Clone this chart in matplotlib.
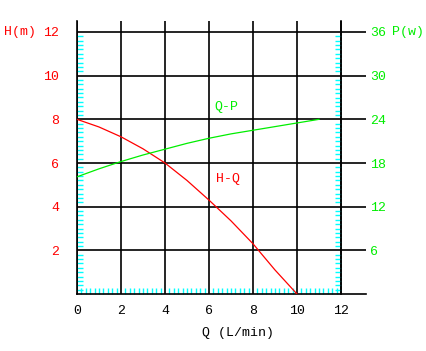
import numpy as np
import matplotlib
matplotlib.use("Agg")
import matplotlib.pyplot as plt

# data
q_h = [0, 1, 2, 3, 4, 5, 6, 7, 8, 9, 10]
head = [8.0, 7.65, 7.2, 6.65, 6.0, 5.2, 4.3, 3.35, 2.3, 1.1, 0.0]
q_p = [0, 1, 2, 3, 4, 5, 6, 7, 8, 9, 10, 11]
power = [16.1, 17.2, 18.2, 19.1, 19.9, 20.7, 21.4, 22.0, 22.5, 23.0, 23.5, 24.0]
x_ticks = [0, 2, 4, 6, 8, 10, 12]
h_ticks = [2, 4, 6, 8, 10, 12]
p_ticks = [6, 12, 18, 24, 30, 36]

plt.rcParams['font.family'] = ['Liberation Mono', 'DejaVu Sans']
fs = 9.5
RED, GREEN, CYAN = '#ff0000', '#00ee00', '#00ffff'

W, H = 427, 351
fig = plt.figure(figsize=(W / 100, H / 100), dpi=100)
x0, x12, xr = 77, 341, 366
y0, y12, yt = 294, 32, 21
ax = fig.add_axes([x0 / W, (H - y0) / H, (xr - x0) / W, (y0 - yt) / H])
xmax = 12 * (xr - x0) / (x12 - x0)
ymax = 12 * (y0 - yt) / (y0 - y12)
ax.set_xlim(0, xmax)
ax.set_ylim(0, ymax)

for s in ['top', 'right']:
    ax.spines[s].set_visible(False)
for s in ['left', 'bottom']:
    ax.spines[s].set_linewidth(1.2)

ax.set_xticks(x_ticks)
ax.set_yticks(h_ticks)
ax.set_yticklabels([str(v) for v in h_ticks], color=RED, fontsize=fs)
ax.set_xticklabels([str(v) for v in x_ticks], fontsize=fs)
ax.tick_params(which='major', length=0)
ax.tick_params(axis='y', which='major', pad=13)
ax.tick_params(axis='x', which='major', pad=8)
ax.grid(True, which='major', color='black', lw=1.2)

minor = [round(v, 1) for v in np.arange(0.2, 12, 0.2) if abs(v / 2 - round(v / 2)) > 0.01]
ax.set_xticks(minor, minor=True)
ax.set_yticks(minor, minor=True)
ax.tick_params(which='minor', direction='in', length=4, width=1, color=CYAN)

ax.plot(q_h, head, color=RED, lw=0.9, zorder=3)

axp = ax.twinx()
axp.set_ylim(0, ymax * 3)
for s in ['top', 'left', 'bottom']:
    axp.spines[s].set_visible(False)
axp.spines['right'].set_position(('data', 12))
axp.spines['right'].set_linewidth(1.2)
axp.set_yticks(p_ticks)
axp.set_yticklabels([str(v) for v in p_ticks], color=GREEN, fontsize=fs)
axp.tick_params(which='major', length=0, pad=21)
axp.set_yticks([v * 3 for v in minor], minor=True)
axp.tick_params(which='minor', direction='in', length=4, width=1, color=CYAN)
axp.plot(q_p, power, color=GREEN, lw=0.9, zorder=3)

ax.text(6.77, 8.57, 'Q-P', color=GREEN, fontsize=fs, ha='center', va='center')
ax.text(6.86, 5.27, 'H-Q', color=RED, fontsize=fs, ha='center', va='center')

fig.text(20 / W, 1 - 32 / H, 'H(m)', color=RED, fontsize=fs, ha='center', va='center')
fig.text(408 / W, 1 - 32 / H, 'P(w)', color=GREEN, fontsize=fs, ha='center', va='center')
fig.text(238 / W, 1 - 333 / H, 'Q (L/min)', fontsize=fs, ha='center', va='center')

fig.savefig('out.png', dpi=100)
